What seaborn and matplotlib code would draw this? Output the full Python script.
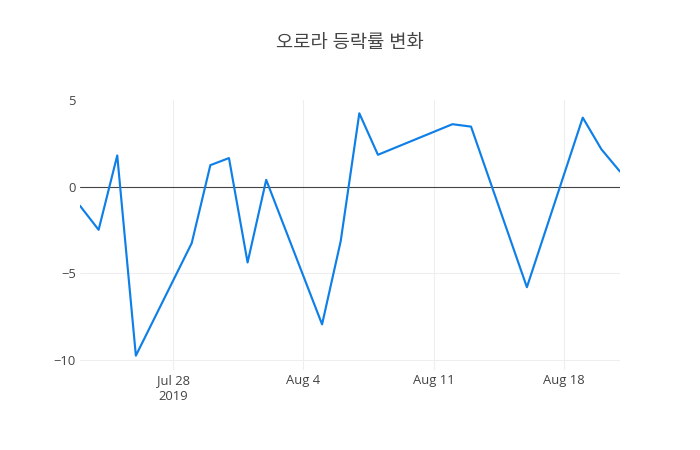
import matplotlib
matplotlib.use("Agg")
import matplotlib.pyplot as plt
import seaborn as sns
import pandas as pd

dates = ["2019-07-23", "2019-07-24", "2019-07-25", "2019-07-26", "2019-07-29",
         "2019-07-30", "2019-07-31", "2019-08-01", "2019-08-02", "2019-08-05",
         "2019-08-06", "2019-08-07", "2019-08-08", "2019-08-12", "2019-08-13",
         "2019-08-16", "2019-08-19", "2019-08-20", "2019-08-21"]
changes = [-1.1, -2.49, 1.81, -9.77, -3.26,
           1.25, 1.66, -4.38, 0.40, -7.96,
           -3.15, 4.25, 1.85, 3.62, 3.48,
           -5.81, 4.0, 2.17, 0.88]

x_tick_dates = ["2019-07-28", "2019-08-04", "2019-08-11", "2019-08-18"]
x_tick_labels = ["Jul 28\n2019", "Aug 4", "Aug 11", "Aug 18"]
y_ticks = [-10, -5, 0, 5]
y_tick_labels = ["\u221210", "\u22125", "0", "5"]
title = "오로라 등락률 변화"

df = pd.DataFrame({"date": pd.to_datetime(dates), "change": changes})

sns.set_theme(style="white")
plt.rcParams["font.family"] = ["Open Sans", "Noto Sans CJK KR", "DejaVu Sans"]

fig = plt.figure(figsize=(7, 4.5), dpi=100)
ax = fig.add_axes([80 / 700, 80 / 450, 540 / 700, 270 / 450])

sns.lineplot(data=df, x="date", y="change", ax=ax, color="#0f7fe8", linewidth=1.55, zorder=3)

ax.set_xlim(pd.Timestamp("2019-07-23"), pd.Timestamp("2019-08-21"))
ax.set_ylim(-10.6, 5.02)

ax.set_xticks(pd.to_datetime(x_tick_dates))
ax.set_xticklabels(x_tick_labels, fontsize=9.4, color="#444444", linespacing=1.25)
ax.set_yticks(y_ticks)
ax.set_yticklabels(y_tick_labels, fontsize=9.4, color="#444444")
ax.tick_params(axis="both", length=0)
ax.tick_params(axis="x", pad=3)
ax.tick_params(axis="y", pad=3)

for t in x_tick_dates:
    ax.axvline(pd.Timestamp(t), color="#eeeeee", linewidth=0.8, zorder=1)
for v in y_ticks:
    if v < 0:
        ax.axhline(v, color="#eeeeee", linewidth=0.8, zorder=1)
ax.axhline(0, color="#444444", linewidth=0.8, zorder=2)

for s in ax.spines.values():
    s.set_visible(False)
ax.grid(False)
ax.set_xlabel("")
ax.set_ylabel("")

fig.text(350 / 700, 1 - 43 / 450, title, ha="center", va="center",
         fontsize=13.5, color="#444444")

fig.savefig("out.png", dpi=100)
